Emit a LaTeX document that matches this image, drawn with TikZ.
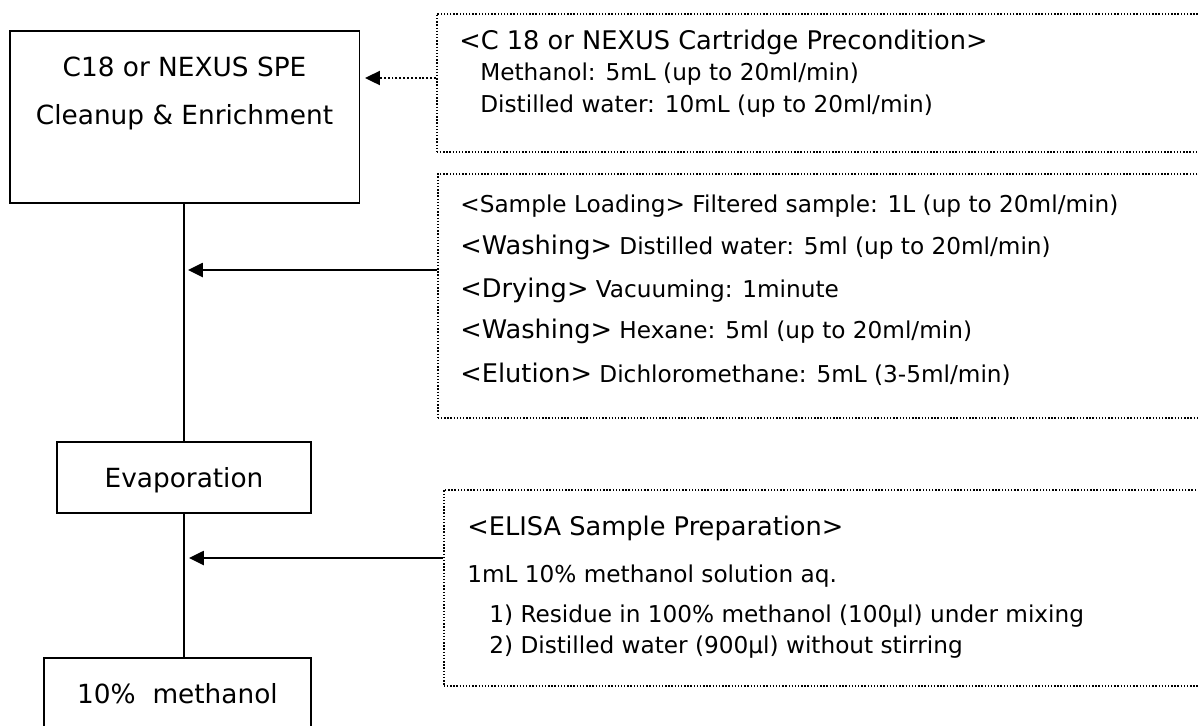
\documentclass[tikz,border=0pt]{standalone}
\usepackage{fontspec}
\setmainfont{DejaVu Sans}
\usetikzlibrary{arrows.meta}

\newcommand{\bxfont}{\fontsize{15}{18}\selectfont}
\newcommand{\hdfont}{\fontsize{14.6}{17}\selectfont}
\newcommand{\bdfont}{\fontsize{13.2}{16}\selectfont}

\tikzset{
  blk/.style={draw, line width=1.1pt, inner sep=0pt},
  note/.style={draw, line width=0.9pt, dash pattern=on 0.8pt off 1pt, inner sep=0pt, anchor=north west},
  lbl/.style={anchor=base, inner sep=0pt, font=\bxfont},
  txt/.style={anchor=base west, inner sep=0pt, font=\bdfont},
  link/.style={line width=1.1pt},
  feed/.style={line width=1.3pt, -{Triangle[length=8.5pt, width=8pt]}},
}

\begin{document}
\begin{tikzpicture}[x=0.02cm, y=-0.02cm]

  \useasboundingbox (0,0) rectangle (1198,725);
  \clip (0,0) rectangle (1198,725);

  % SPE block
  \node[blk, minimum width=7cm, minimum height=3.44cm] (spe) at (184.5,117) {};
  \node[lbl] (speA) at (184.5,76)  {C18 or NEXUS SPE};
  \node[lbl] (speB) at (184.5,124) {Cleanup \& Enrichment};

  % evaporation
  \node[blk, minimum width=5.08cm, minimum height=1.42cm] (evap) at (184,477.5) {};
  \node[lbl] (evapA) at (184,487) {Evaporation};

  % final solution (runs off the page)
  \node[blk, minimum width=5.34cm, minimum height=2.4cm, anchor=north] (meth) at (177.5,657) {};
  \node[lbl] (methA) at (177.5,703) {10\%\ \ methanol};

  % main line
  \draw[link] (spe.south -| evap.north) -- (evap.north);
  \draw[link] (evap.south) -- (evap.south |- meth.north);

  % cartridge precondition
  \node[note, minimum width=15.5cm, minimum height=2.76cm] (prec) at (436,13) {};
  \node[txt, font=\hdfont] (precA) at (459,49) {<C 18 or NEXUS Cartridge Precondition>};
  \node[txt] (precB) at (480,80)  {Methanol: 5mL (up to 20ml/min)};
  \node[txt] (precC) at (480,112) {Distilled water: 10mL (up to 20ml/min)};

  % loading, washing, drying, elution
  \node[note, minimum width=15.5cm, minimum height=4.88cm] (load) at (437,173) {};
  \node[txt] (loadA) at (460,212) {<Sample Loading> Filtered sample: 1L (up to 20ml/min)};
  \node[txt] (loadB) at (460,254) {{\hdfont <Washing>} Distilled water: 5ml (up to 20ml/min)};
  \node[txt] (loadC) at (460,297) {{\hdfont <Drying>} Vacuuming: 1minute};
  \node[txt] (loadD) at (460,338) {{\hdfont <Washing>} Hexane: 5ml (up to 20ml/min)};
  \node[txt] (loadE) at (460,382) {{\hdfont <Elution>} Dichloromethane: 5mL (3-5ml/min)};

  % ELISA preparation
  \node[note, minimum width=15.4cm, minimum height=3.92cm] (elisa) at (443,489) {};
  \node[txt, font=\hdfont] (elisaA) at (467,535) {<ELISA Sample Preparation>};
  \node[txt] (elisaB) at (467,582) {1mL 10\% methanol solution aq.};
  \node[txt] (elisaC) at (489,622) {1) Residue in 100\% methanol (100µl) under mixing};
  \node[txt] (elisaD) at (489,653) {2) Distilled water (900µl) without stirring};

  % inputs
  \coordinate (in1) at (365,78);
  \coordinate (in2) at (188,270);
  \coordinate (in3) at (189,558);
  \draw[feed, line width=1.1pt, dash pattern=on 1.1pt off 1.1pt] (prec.west |- in1) -- (in1);
  \draw[feed] (load.west |- in2) -- (in2);
  \draw[feed] (elisa.west |- in3) -- (in3);

\end{tikzpicture}
\end{document}
